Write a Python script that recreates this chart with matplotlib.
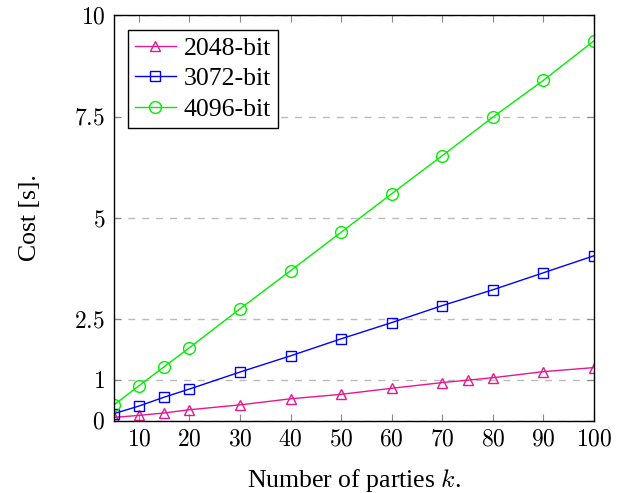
import numpy as np
import matplotlib
matplotlib.use('Agg')
from matplotlib import pyplot as plt

plt.rcParams['font.family'] = ['Liberation Serif', 'DejaVu Serif']
plt.rcParams['mathtext.fontset'] = 'cm'

# data
k_2048 = [5, 10, 15, 20, 30, 40, 50, 60, 70, 75, 80, 90, 100]
cost_2048 = [0.08, 0.13, 0.19, 0.27, 0.39, 0.54, 0.65, 0.80, 0.94, 1.00, 1.06, 1.21, 1.31]
k_3072 = [5, 10, 15, 20, 30, 40, 50, 60, 70, 80, 90, 100]
cost_3072 = [0.17, 0.36, 0.58, 0.78, 1.20, 1.60, 2.02, 2.42, 2.84, 3.23, 3.65, 4.07]
k_4096 = [5, 10, 15, 20, 30, 40, 50, 60, 70, 80, 90, 100]
cost_4096 = [0.38, 0.86, 1.33, 1.80, 2.76, 3.70, 4.65, 5.60, 6.54, 7.49, 8.40, 9.375]

xticks = [10, 20, 30, 40, 50, 60, 70, 80, 90, 100]
yticks = [0, 1, 2.5, 5, 7.5, 10]
ylabels = ['0', '1', '2.5', '5', '7.5', '10']

fs_tick = 17
fs = 18.5
fig = plt.figure(figsize=(6.36, 4.93), dpi=100)
ax = fig.add_axes([0.1785, 0.1467, 0.7555, 0.822])

ax.plot(k_2048, cost_2048, color='#e6178f', lw=1, marker='^', ms=7.5,
        mfc='none', mew=1, label='2048-bit')
ax.plot(k_3072, cost_3072, color='#0000ff', lw=1, marker='s', ms=7.5,
        mfc='none', mew=1, label='3072-bit')
ax.plot(k_4096, cost_4096, color='#00ee00', lw=1, marker='o', ms=8.5,
        mfc='none', mew=1, label='4096-bit')

ax.set_xlim(5, 100)
ax.set_ylim(0, 10)
ax.set_xticks(xticks)
ax.set_xticklabels(['$%d$' % x for x in xticks], fontsize=fs_tick)
ax.set_yticks(yticks)
ax.set_yticklabels(['$%s$' % s for s in ylabels], fontsize=fs_tick)
ax.tick_params(direction='in', length=5, color='#888888', top=True, right=True, pad=6)
ax.grid(axis='y', linestyle=(0, (5, 5)), color='#bbbbbb', lw=1)
for sp in ax.spines.values():
    sp.set_linewidth(1)

ax.set_xlabel('Number of parties $k$.', fontsize=fs, labelpad=12)
ax.set_ylabel('Cost [s].', fontsize=fs, labelpad=24)

leg = ax.legend(loc='upper left', fontsize=fs, fancybox=False, edgecolor='black',
                framealpha=1, handlelength=1.6, borderpad=0.28, labelspacing=0.3,
                handletextpad=0.3, borderaxespad=0.55)
leg.get_frame().set_linewidth(1)

plt.savefig('out.png', dpi=100)
